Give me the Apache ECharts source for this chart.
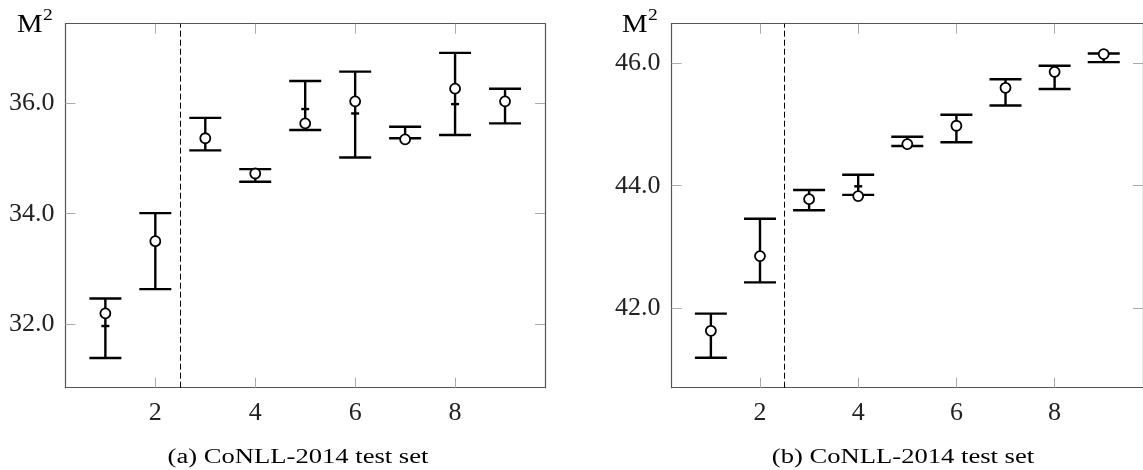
<!DOCTYPE html>
<html>
<head>
<meta charset="utf-8">
<script src="https://cdn.jsdelivr.net/npm/echarts@6/dist/echarts.min.js"></script>
<style>
  html, body { margin: 0; padding: 0; background: #fff; }
  #chart { width: 1143px; height: 470px; }
</style>
</head>
<body>
<div id="chart"></div>
<script>
// run index (1..9) and tick positions
var xVals = [1, 2, 3, 4, 5, 6, 7, 8, 9];
var xTicks = [2, 4, 6, 8];
var yTicksA = [32, 34, 36];
var yTicksB = [42, 44, 46];

// (a) error bar low / high, bar centre mark, circle marker
var lowA  = [31.38, 32.63, 35.15, 34.58, 35.52, 35.02, 35.37, 35.43, 35.64];
var highA = [32.46, 34.01, 35.74, 34.81, 36.41, 36.58, 35.58, 36.92, 36.27];
var meanA = [31.96, 33.50, 35.37, 34.73, 35.90, 35.82, 35.35, 35.99, 36.04];
var bestA = [32.19, 33.50, 35.37, 34.73, 35.64, 36.04, 35.35, 36.27, 36.04];

// (b)
var lowB  = [41.19, 42.42, 43.60, 43.85, 44.65, 44.71, 45.31, 45.58, 46.02];
var highB = [41.91, 43.46, 43.93, 44.18, 44.80, 45.16, 45.74, 45.96, 46.16];
var meanB = [41.63, 42.85, 43.78, 43.99, 44.68, 44.98, 45.60, 45.86, 46.15];
var bestB = [41.63, 42.85, 43.78, 43.83, 44.68, 44.98, 45.60, 45.86, 46.15];

var captions = ['(a) CoNLL-2014 test set', '(b) CoNLL-2014 test set'];
var splitAt = 2.5;

var FONT = '"Times New Roman", "Liberation Serif", Times, serif';

function barRows(lo, hi, mid) {
	return xVals.map(function(x, i) { return [x, lo[i], hi[i], mid[i]]; });
}
function pointRows(v) {
	return xVals.map(function(x, i) { return [x, v[i]]; });
}

function renderBar(params, api) {
	var x = api.value(0);
	var lo = api.coord([x, api.value(1)]);
	var hi = api.coord([x, api.value(2)]);
	var mid = api.coord([x, api.value(3)]);
	var cap = 16, dash = 4;
	function ln(x1, y1, x2, y2) {
		return { type: 'line', shape: { x1: x1, y1: y1, x2: x2, y2: y2 },
			style: { stroke: '#000', lineWidth: 2.4 } };
	}
	return {
		type: 'group',
		children: [
			ln(lo[0], lo[1], hi[0], hi[1]),
			ln(hi[0] - cap, hi[1], hi[0] + cap, hi[1]),
			ln(lo[0] - cap, lo[1], lo[0] + cap, lo[1]),
			ln(mid[0] - dash, mid[1], mid[0] + dash, mid[1])
		]
	};
}

function xAx(g, pos, showLabel) {
	return {
		type: 'value', gridIndex: g, position: pos, min: 0.2, max: 9.8,
		axisLine: { show: true, lineStyle: { color: '#555', width: 1.2 } },
		axisTick: { show: true, inside: true, length: 10, customValues: xTicks,
			lineStyle: { color: '#aaa', width: 1 } },
		axisLabel: { show: showLabel, customValues: xTicks, margin: 12,
			fontFamily: FONT, fontSize: 26, color: '#222' },
		splitLine: { show: false }
	};
}
function yAx(g, pos, showLabel, lo, hi, ticks) {
	return {
		type: 'value', gridIndex: g, position: pos, min: lo, max: hi,
		axisLine: { show: true, lineStyle: { color: '#555', width: 1.2 } },
		axisTick: { show: true, inside: true, length: 10, customValues: ticks,
			lineStyle: { color: '#aaa', width: 1 } },
		axisLabel: { show: showLabel, customValues: ticks, margin: 11,
			fontFamily: FONT, fontSize: 26, color: '#222',
			formatter: function(v) { return v.toFixed(1); } },
		splitLine: { show: false }
	};
}

function seriesFor(g, lo, hi, mid, best) {
	return [
		{
			type: 'custom', xAxisIndex: g * 2, yAxisIndex: g * 2,
			renderItem: renderBar, data: barRows(lo, hi, mid),
			encode: { x: 0, y: [1, 2] }, z: 3, silent: true,
			markLine: {
				silent: true, symbol: 'none', label: { show: false },
				lineStyle: { type: [6, 3], color: '#000', width: 1 },
				data: [{ xAxis: splitAt }]
			}
		},
		{
			type: 'scatter', xAxisIndex: g * 2, yAxisIndex: g * 2,
			data: pointRows(best), symbol: 'circle', symbolSize: 10, z: 5,
			itemStyle: { color: '#fff', borderColor: '#000', borderWidth: 1.8, opacity: 1 }
		}
	];
}

function label(x, y, txt, size, sx, align) {
	return {
		type: 'text', x: x, y: y, scaleX: sx,
		style: { text: txt, x: 0, y: 0, fontSize: size, fontFamily: FONT,
			fill: '#000', align: align, verticalAlign: 'middle' }
	};
}

var chart = echarts.init(document.getElementById('chart'));
chart.setOption({
	animation: false,
	backgroundColor: '#fff',
	grid: [
		{ left: 65.4, top: 23.7, width: 479.6, height: 364 },
		{ left: 671.6, top: 23.7, width: 478.6, height: 364 }
	],
	xAxis: [xAx(0, 'bottom', true), xAx(0, 'top', false), xAx(1, 'bottom', true), xAx(1, 'top', false)],
	yAxis: [
		yAx(0, 'left', true, 30.84, 37.45, yTicksA), yAx(0, 'right', false, 30.84, 37.45, yTicksA),
		yAx(1, 'left', true, 40.70, 46.647, yTicksB), yAx(1, 'right', false, 40.70, 46.647, yTicksB)
	],
	series: seriesFor(0, lowA, highA, meanA, bestA).concat(seriesFor(1, lowB, highB, meanB, bestB)),
	graphic: [
		label(17, 25, 'M', 25, 1.15, 'left'),
		label(43, 16, '2', 17, 1.15, 'left'),
		label(622, 25, 'M', 25, 1.15, 'left'),
		label(648, 16, '2', 17, 1.15, 'left'),
		label(298, 458, captions[0], 20, 1.33, 'center'),
		label(903, 458, captions[1], 20, 1.33, 'center')
	]
});
</script>
</body>
</html>
